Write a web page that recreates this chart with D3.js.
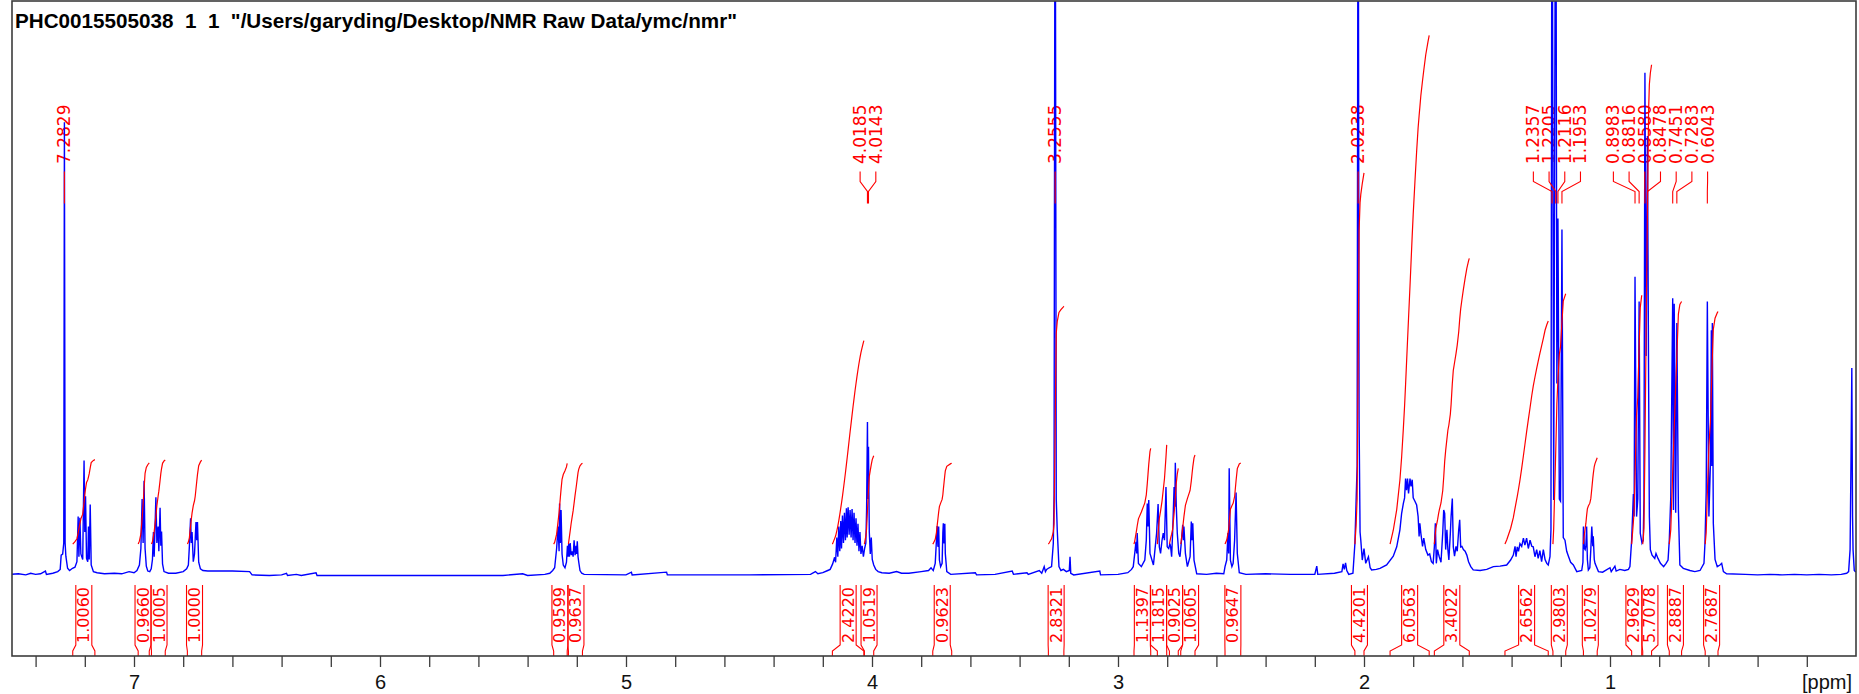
<!DOCTYPE html>
<html><head><meta charset="utf-8">
<script src="https://cdn.jsdelivr.net/npm/d3@7"></script>
<style>
html,body{margin:0;padding:0;background:#fff;}
svg{display:block;}
</style></head><body>
<svg id="c" width="1859" height="694"></svg>
<script>
const title = 'PHC0015505038  1  1  "/Users/garyding/Desktop/NMR Raw Data/ymc/nmr"';
const axisUnit = "[ppm]";
const tickValues = [7.4,7.2,7.0,6.8,6.6,6.4,6.2,6.0,5.8,5.6,5.4,5.2,5.0,4.8,4.6,4.4,4.2,4.0,3.8,3.6,3.4,3.2,3.0,2.8,2.6,2.4,2.2,2.0,1.8,1.6,1.4,1.2,1.0,0.8,0.6,0.4,0.2];
const tickLabels = [7,6,5,4,3,2,1];

// spectrum vertices [ppm, intensity]
const spectrum = [
[7.500,0.3],[7.470,0.4],[7.440,0.2],[7.420,0.5],[7.400,0.3],[7.380,0.4],[7.360,0.9],[7.356,0.3],[7.330,0.5],[7.310,0.8],[7.300,1.2],
[7.296,3.8],[7.290,4.0],[7.2855,6],[7.2829,82.5],[7.280,6],[7.277,3.6],[7.270,1.4],[7.262,1.0],[7.250,1.4],
[7.240,1.6],[7.232,2.6],[7.227,10.8],[7.224,3.5],[7.220,10.6],[7.216,4.0],[7.2085,3.0],[7.203,21.0],[7.200,8.0],[7.197,14.5],[7.193,3.2],[7.188,2.6],[7.185,9.0],[7.182,3.0],[7.178,13.0],[7.174,2.0],[7.165,0.8],[7.150,0.6],
[7.120,0.4],[7.080,0.5],[7.050,0.4],[7.020,0.8],[7.000,0.6],[6.988,1.0],
[6.978,2.0],[6.972,5.0],[6.967,14.0],[6.963,6.0],[6.959,17.3],[6.955,5.0],[6.950,1.8],[6.944,0.9],[6.936,0.8],[6.930,1.3],
[6.925,3.0],[6.921,8.0],[6.918,3.5],[6.911,14.3],[6.907,6.0],[6.902,9.0],[6.899,4.5],[6.894,12.4],[6.891,5.5],[6.888,8.1],[6.884,2.2],[6.878,0.8],
[6.860,0.5],[6.830,0.5],[6.800,0.8],[6.786,1.3],
[6.779,2.0],[6.775,5.3],[6.770,10.5],[6.767,6.0],[6.764,8.0],[6.759,2.6],[6.754,4.0],[6.751,7.0],[6.748,9.8],[6.745,6.5],[6.742,9.8],[6.737,2.5],[6.730,1.3],[6.720,1.0],
[6.700,0.9],[6.600,0.9],[6.530,0.8],[6.520,0.2],[6.450,0.1],[6.400,0.2],[6.380,0.5],[6.376,0.1],[6.340,0.3],[6.320,0.1],[6.260,0.6],[6.256,0.1],[6.000,0.1],[5.800,0.1],[5.600,0.1],[5.500,0.1],[5.420,0.4],[5.400,0.1],[5.330,0.3],[5.310,0.5],[5.298,1.0],
[5.290,1.5],[5.282,5.0],[5.276,9.0],[5.272,4.5],[5.270,13.2],[5.267,6.0],[5.264,12.0],[5.260,4.0],[5.255,2.0],
[5.248,1.5],[5.242,2.5],[5.238,5.5],[5.236,3.5],[5.233,5.8],[5.230,3.5],[5.227,6.0],[5.223,3.8],[5.219,4.5],[5.215,3.5],[5.211,6.5],[5.207,3.8],[5.203,5.5],[5.201,4.0],[5.198,6.3],[5.195,3.5],[5.192,2.5],[5.187,1.0],[5.180,0.5],[5.170,0.3],
[5.000,0.2],[4.978,0.7],[4.975,0.2],[4.835,0.7],[4.832,0.2],[4.500,0.2],[4.250,0.3],[4.230,0.8],[4.220,0.4],[4.200,0.6],[4.180,1.0],
[4.170,1.2],[4.160,2.2],[4.152,3.4],[4.148,2.5],[4.143,7.0],[4.139,3.5],[4.135,9.0],[4.131,4.5],[4.127,10.0],[4.124,5.0],[4.120,11.0],[4.116,6.0],[4.112,11.5],[4.108,6.5],[4.104,12.3],[4.101,7.0],[4.097,12.5],[4.093,7.5],[4.089,12.0],[4.085,7.0],[4.081,12.2],[4.077,6.5],[4.073,11.5],[4.069,6.0],[4.065,10.5],[4.061,5.5],[4.057,9.5],[4.053,4.5],[4.049,8.0],[4.045,4.0],[4.040,5.5],[4.035,3.5],[4.030,5.0],[4.025,6.0],[4.022,12.0],[4.0185,28.0],[4.0165,14.0],[4.0143,23.5],[4.011,8.0],[4.007,4.0],[4.003,7.0],[3.999,3.0],[3.993,2.0],[3.985,1.2],[3.975,0.8],
[3.960,0.6],[3.930,0.5],[3.900,0.8],[3.880,0.5],[3.850,0.5],[3.800,0.8],[3.770,1.0],[3.760,1.5],
[3.755,1.2],[3.751,1.0],[3.743,2.3],[3.738,6.5],[3.735,9.1],[3.732,5.3],[3.729,9.0],[3.726,2.9],[3.721,1.7],[3.715,2.3],[3.712,7.8],[3.710,9.6],[3.707,5.9],[3.704,9.5],[3.702,4.1],[3.696,0.8],
[3.680,0.3],[3.580,0.6],[3.575,0.2],[3.500,0.3],[3.430,0.9],[3.425,0.3],[3.370,0.6],[3.365,0.3],[3.320,1.0],[3.310,0.5],[3.300,1.7],[3.295,0.8],[3.290,1.2],[3.280,1.5],
[3.270,1.7],[3.263,5.9],[3.260,14.7],[3.2555,150],[3.251,14.0],[3.247,8.4],[3.240,1.7],[3.232,1.0],[3.222,1.2],[3.210,0.8],[3.198,1.0],[3.195,3.5],[3.192,0.5],[3.180,0.2],
[3.074,0.9],[3.071,0.2],[3.000,0.3],[2.960,0.6],[2.945,1.2],
[2.938,1.7],[2.932,4.1],[2.927,6.2],[2.924,4.1],[2.922,7.8],[2.917,2.3],[2.905,1.7],[2.891,2.9],[2.885,6.5],[2.881,13.2],[2.878,9.0],[2.875,13.8],[2.870,4.1],[2.856,2.0],[2.843,7.8],[2.837,13.1],[2.832,5.3],[2.827,4.1],[2.821,6.5],[2.816,7.8],[2.811,6.5],[2.805,16.2],[2.800,5.3],[2.794,5.0],[2.789,5.9],[2.786,5.3],[2.782,3.5],[2.778,7.8],[2.772,16.2],[2.769,12.6],[2.767,20.6],[2.763,12.6],[2.759,7.8],[2.753,4.1],[2.748,3.5],[2.743,5.9],[2.737,9.3],[2.734,6.5],[2.732,9.0],[2.726,4.1],[2.718,1.7],[2.707,3.5],[2.702,9.9],[2.699,6.5],[2.696,9.6],[2.691,2.9],[2.680,0.4],
[2.640,0.3],[2.600,0.5],[2.570,0.4],
[2.565,1.7],[2.558,2.9],[2.553,7.8],[2.550,4.1],[2.548,19.6],[2.543,2.9],[2.537,1.7],[2.532,2.3],[2.526,6.5],[2.520,15.2],[2.515,4.1],[2.507,0.6],
[2.480,0.3],[2.400,0.4],[2.300,0.3],[2.200,0.3],[2.192,1.8],[2.188,0.3],[2.120,0.5],[2.090,0.8],[2.085,2.2],[2.080,1.2],[2.075,2.4],[2.070,1.0],[2.062,0.3],[2.045,0.5],
[2.037,5.9],[2.032,13.8],[2.028,20.0],[2.0238,150],[2.020,28.4],[2.016,8.0],[2.013,6.5],[2.007,2.9],[2.000,5.0],[1.993,2.3],[1.982,3.5],[1.975,1.5],[1.969,1.1],[1.950,1.2],[1.935,1.4],
[1.908,2.0],[1.881,3.6],[1.867,5.3],[1.854,8.4],[1.847,11.4],[1.840,13.2],[1.835,14.2],[1.831,17.7],[1.827,15.6],[1.823,17.7],[1.819,15.0],[1.813,17.7],[1.809,16.3],[1.804,17.5],[1.800,14.2],[1.793,13.6],[1.786,12.9],[1.780,10.8],[1.776,7.2],[1.773,9.6],[1.769,7.8],[1.762,5.4],[1.757,6.9],[1.749,4.8],[1.740,3.8],[1.733,4.0],[1.726,2.6],[1.719,2.3],
[1.714,5.3],[1.710,9.6],[1.708,5.9],[1.706,2.3],[1.701,4.8],[1.697,4.0],[1.694,3.5],[1.687,2.5],[1.680,7.8],[1.676,12.0],[1.672,11.4],[1.668,4.8],[1.663,8.4],[1.659,4.8],[1.655,2.9],[1.649,7.8],[1.646,10.8],[1.641,14.1],[1.637,5.3],[1.632,3.6],[1.626,5.4],[1.621,4.5],[1.615,8.4],[1.611,10.2],[1.607,5.3],[1.602,5.4],[1.596,4.8],[1.589,4.5],[1.582,3.8],[1.575,2.6],[1.566,1.7],[1.556,1.1],[1.528,1.0],[1.501,1.2],[1.474,1.7],[1.447,1.8],[1.420,2.0],[1.404,2.9],[1.393,3.8],[1.386,5.4],[1.382,3.5],[1.377,5.3],[1.372,4.5],[1.366,5.9],[1.359,5.4],[1.352,6.9],[1.346,5.6],[1.339,6.9],[1.332,5.0],[1.325,6.5],[1.318,5.4],[1.312,5.3],[1.305,3.5],[1.298,4.8],[1.292,3.2],[1.285,4.6],[1.278,2.6],[1.271,4.8],[1.264,3.0],[1.257,2.3],[1.251,2.0],[1.244,3.5],
[1.240,8.4],[1.2357,150],[1.229,13.8],[1.2205,150],[1.216,35],[1.2116,65],[1.206,14],[1.201,13.6],[1.1953,63],[1.190,7.0],[1.183,6.5],[1.176,4.5],[1.169,3.6],[1.160,2.5],[1.149,2.0],[1.135,0.8],
[1.115,1.0],[1.110,2.5],[1.108,9.0],[1.104,5.0],[1.101,4.8],[1.098,5.5],[1.095,9.0],[1.092,3.0],[1.088,1.1],[1.082,1.5],[1.078,4.8],[1.074,9.0],[1.070,5.4],[1.068,7.2],[1.064,3.0],[1.061,2.3],[1.047,0.8],
[1.030,0.7],[1.000,1.5],[0.995,0.8],[0.980,1.8],[0.975,0.9],[0.960,1.2],[0.940,1.0],[0.925,1.2],[0.919,1.7],
[0.912,6.5],[0.905,14.9],[0.902,10.8],[0.8983,54.4],[0.892,10.8],[0.887,14],[0.8816,49.9],[0.877,7.8],[0.870,6.0],[0.865,6.5],[0.862,14],[0.8580,91.5],[0.853,40],[0.8478,80],[0.843,35],[0.840,10.8],[0.836,4.8],[0.829,3.8],[0.818,3.2],[0.813,4.1],[0.805,3.2],[0.795,2.3],[0.782,1.7],[0.772,2.3],[0.764,2.9],
[0.759,6.5],[0.753,14.3],[0.7451,50.5],[0.742,12],[0.739,49.5],[0.733,11.5],[0.7283,46.0],[0.722,12.1],[0.716,2.0],[0.702,1.4],[0.675,1.0],[0.655,0.8],[0.634,1.0],[0.618,2.3],
[0.614,5.9],[0.609,15.2],[0.6043,49.9],[0.598,10.8],[0.592,20],[0.588,44.7],[0.586,20],[0.584,46.0],[0.580,9.6],[0.573,3.0],[0.564,1.7],[0.553,2.0],[0.546,2.3],[0.539,0.8],[0.526,0.4],
[0.450,0.3],[0.400,0.2],[0.350,0.3],[0.300,0.2],[0.250,0.3],[0.200,0.2],[0.150,0.3],[0.100,0.2],[0.060,0.3],[0.038,0.5],[0.030,0.8],[0.024,4.8],[0.020,22.4],[0.017,37.8],[0.014,10.8],[0.012,4.8],[0.007,1.0],[0.003,0.8],[0.000,0.8]
];

const peakLabels = [7.2829, 4.0185, 4.0143, 3.2555, 2.0238, 1.2357, 1.2205, 1.2116, 1.1953, 0.8983, 0.8816, 0.8580, 0.8478, 0.7451, 0.7283, 0.6043];

const integralRegions = [[7.249,7.159],[6.983,6.938],[6.929,6.873],[6.783,6.725],[5.294,5.239],[5.234,5.177],[4.161,4.033],[4.031,3.993],[3.753,3.676],[3.283,3.220],[2.935,2.867],[2.840,2.802],[2.791,2.755],[2.745,2.687],[2.565,2.501],[2.037,2.000],[1.894,1.735],[1.714,1.572],[1.427,1.251],[1.232,1.180],[1.108,1.052],[0.912,0.871],[0.867,0.831],[0.759,0.709],[0.613,0.561]];
const integralValues = [1.0060,0.9660,1.0005,1.0000,0.9599,0.9637,2.4220,1.0519,0.9623,2.8321,1.1397,1.1815,0.9025,1.0605,0.9647,4.4201,6.0563,3.4022,2.6562,2.9803,1.0279,2.9629,5.7078,2.8887,2.7687];

// ---------- layout ----------
const W = 1859, H = 694;
const F = {x0: 12, x1: 1856, y0: 1, y1: 656};
const BLUE = "#0000ff", RED = "#ff0000";
const svg = d3.select("#c");
const x = d3.scaleLinear().domain([7.5, 0]).range([11, 1856]);
const y = d3.scaleLinear().domain([0, 100]).range([576, 26]);

svg.append("rect").attr("width", W).attr("height", H).attr("fill", "#fff");
svg.append("defs").append("clipPath").attr("id", "clip")
  .append("rect").attr("x", F.x0).attr("y", F.y0).attr("width", F.x1 - F.x0).attr("height", F.y1 - F.y0);

function spread(xs, sp) {
  const clusters = [];
  xs.forEach((v, i) => {
    clusters.push({sum: v, n: 1, idx: [i]});
    while (clusters.length > 1) {
      const b = clusters[clusters.length - 1], a = clusters[clusters.length - 2];
      const aEnd = a.sum / a.n + (a.n - 1) / 2 * sp;
      const bStart = b.sum / b.n - (b.n - 1) / 2 * sp;
      if (bStart - aEnd < sp) { a.sum += b.sum; a.n += b.n; a.idx = a.idx.concat(b.idx); clusters.pop(); }
      else break;
    }
  });
  const out = [];
  clusters.forEach(c => { const m = c.sum / c.n; c.idx.forEach((id, k) => { out[id] = m + (k - (c.n - 1) / 2) * sp; }); });
  return out;
}

// ---------- peak label texts ----------
const peakX = peakLabels.map(p => x(p));
const labX = spread(peakX, 15.7);
const gPeak = svg.append("g");
gPeak.selectAll("text").data(peakLabels).join("text")
  .attr("transform", (d, i) => `translate(${labX[i]},164) rotate(-90)`)
  .attr("text-anchor", "start").attr("dominant-baseline", "central")
  .attr("font-family", "DejaVu Sans, sans-serif").attr("font-size", 17)
  .attr("fill", RED).text(d => d.toFixed(4));

// ---------- integral label texts ----------
const intCX = integralRegions.map(r => (x(r[0]) + x(r[1])) / 2);
const intLX = spread(intCX, 16);
const gInt = svg.append("g");
gInt.selectAll("text").data(integralValues).join("text")
  .attr("transform", (d, i) => `translate(${intLX[i]},615) rotate(-90)`)
  .attr("text-anchor", "middle").attr("dominant-baseline", "central")
  .attr("font-family", "DejaVu Sans, sans-serif").attr("font-size", 16)
  .attr("fill", RED).text(d => d.toFixed(4));

// ---------- spectrum ----------
const line = d3.line().x(d => x(d[0])).y(d => y(d[1]));
svg.append("path").datum(spectrum).attr("clip-path", "url(#clip)")
  .attr("d", line).attr("fill", "none").attr("stroke", BLUE).attr("stroke-width", 1.4)
  .attr("stroke-linejoin", "miter");

// ---------- integral curves (cumulative area of the spectrum) ----------
function interpI(p) {
  for (let i = 1; i < spectrum.length; i++) {
    const a = spectrum[i - 1], b = spectrum[i];
    if (p <= a[0] && p >= b[0]) { const t = (a[0] - p) / (a[0] - b[0]); return a[1] + t * (b[1] - a[1]); }
  }
  return 0;
}
const BASE = 5.8, PERUNIT = 15.27;
const intCurves = integralRegions.map((r, k) => {
  const seq = [[r[0], interpI(r[0])]].concat(spectrum.filter(d => d[0] < r[0] && d[0] > r[1])).concat([[r[1], interpI(r[1])]]);
  const cum = [0];
  for (let i = 1; i < seq.length; i++) cum.push(cum[i - 1] + (seq[i - 1][0] - seq[i][0]) * (seq[i - 1][1] + seq[i][1]) / 2);
  const tot = cum[cum.length - 1] || 1;
  return seq.map((d, i) => [d[0], BASE + cum[i] / tot * integralValues[k] * PERUNIT]);
});
svg.append("g").attr("clip-path", "url(#clip)").selectAll("path").data(intCurves).join("path")
  .attr("d", line).attr("fill", "none").attr("stroke", RED).attr("stroke-width", 1.2);

// ---------- connectors ----------
const gConn = svg.append("g").attr("fill", "none").attr("stroke", RED).attr("stroke-width", 1.1);
gConn.selectAll("path.pk").data(peakLabels).join("path").attr("class", "pk")
  .attr("d", (d, i) => `M${labX[i]},171.5V181.5L${peakX[i]},191.5V203.5`);
gConn.selectAll("path.it").data(integralRegions).join("path").attr("class", "it")
  .attr("d", (r, i) => {
    const xl = intLX[i] - 8, xr = intLX[i] + 8, ra = x(r[0]), rb = x(r[1]);
    return `M${xl},585V645L${ra},651V656M${xr},585V645L${rb},651V656`;
  });

// ---------- frame ----------
svg.append("rect").attr("x", F.x0).attr("y", F.y0).attr("width", F.x1 - F.x0).attr("height", F.y1 - F.y0)
  .attr("fill", "none").attr("stroke", "#3c3c3c").attr("stroke-width", 1.6);

// ---------- axis ----------
const ax = svg.append("g").attr("transform", `translate(0,${F.y1})`)
  .call(d3.axisBottom(x).tickValues(tickValues).tickSize(11).tickPadding(8)
    .tickFormat(d => { const m = tickLabels.find(t => Math.abs(t - d) < 1e-6); return m === undefined ? "" : String(m); }));
ax.select(".domain").remove();
ax.selectAll("line").attr("stroke", "#3c3c3c").attr("stroke-width", 1.3);
ax.selectAll("text").attr("font-family", "Liberation Sans Narrow, Arial Narrow, sans-serif").attr("font-size", 20).attr("fill", "#111");
svg.append("text").attr("x", 1852).attr("y", 689).attr("text-anchor", "end")
  .attr("font-family", "Liberation Sans Narrow, Arial Narrow, sans-serif").attr("font-size", 20).attr("fill", "#111")
  .text(axisUnit);

// ---------- title ----------
svg.append("text").attr("x", 15).attr("y", 28).style("white-space", "pre")
  .attr("font-family", "Liberation Sans Narrow, Arial Narrow, sans-serif").attr("font-size", 21)
  .attr("font-weight", "bold").attr("fill", "#000")
  .attr("textLength", 722).attr("lengthAdjust", "spacingAndGlyphs")
  .text(title);
</script>
</body></html>
